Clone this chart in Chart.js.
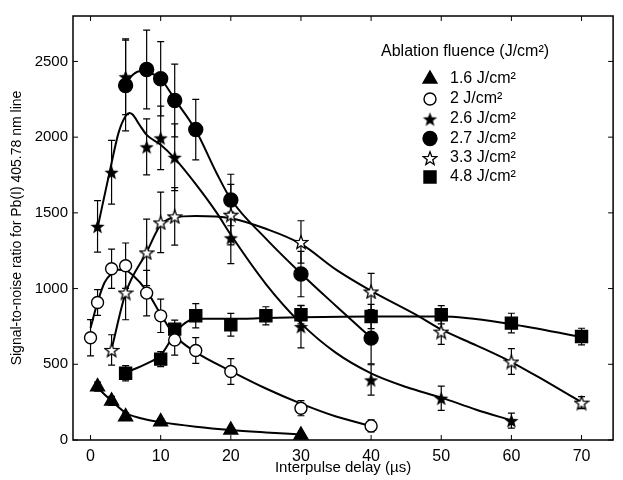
<!DOCTYPE html>
<html><head><meta charset="utf-8">
<script src="https://cdn.jsdelivr.net/npm/chart.js@4/dist/chart.umd.min.js"></script>
<style>html,body{margin:0;padding:0;background:#fff;}#wrap{width:623px;height:480px;position:relative;}</style>
</head><body><div id="wrap"><canvas id="c"></canvas></div>
<script>
// ---- data ----
const legendTitle = 'Ablation fluence (J/cm²)';
const seriesNames = ['1.6 J/cm²','2 J/cm²','2.6 J/cm²','2.7 J/cm²','3.3 J/cm²','4.8 J/cm²'];
const xTicks = [0,10,20,30,40,50,60,70];
const yTicks = [0,500,1000,1500,2000,2500];

// measured points (x = delay µs, y = S/N, e = error half-width)
const x16 = [1,3,5,10,20,30];
const y16 = [352,258,154,121,66,33];
const e16 = [30,30,25,20,15,10];

const x20 = [0,1,3,5,8,10,12,15,20,30,40];
const y20 = [675,908,1131,1151,970,820,661,591,452,210,93];
const e20 = [120,85,130,150,150,110,100,85,85,50,40];

const x26 = [1,3,5,8,10,12,20,30,40,50,60];
const y26 = [1411,1768,2399,1936,1995,1867,1335,749,397,276,128];
const e26 = [170,210,250,185,210,220,170,140,100,80,50];

const x27 = [5,8,10,12,15,20,30,40];
const y27 = [2341,2447,2386,2242,2050,1585,1096,673];
const e27 = [300,260,245,240,200,170,150,170];

const x33 = [3,5,8,10,12,20,30,40,50,60,70];
const y33 = [595,974,1239,1437,1477,1488,1308,981,716,518,247];
const e33 = [100,180,220,200,190,200,140,120,85,85,40];

const x48 = [5,10,12,15,20,25,30,40,50,60,70];
const y48 = [441,534,732,820,761,820,827,816,827,772,683];
const e48 = [50,50,60,80,75,60,60,80,60,65,55];

// fitted curves
const fx16 = [1,3,5,7,10,15,20,25,30];
const fy16 = [345,258,180,145,118,88,66,50,36];
const fx20 = [0,1,2,3,4,5,6,8,10,12,15,20,25,30,35,40];
const fy20 = [740,910,1040,1100,1125,1120,1090,985,830,690,580,455,340,240,155,93];
const fx26 = [1,3,4,5,5.5,6,7,8,10,12,15,18,20,25,30,35,40,45,50,55,60];
const fy26 = [1400,1830,2030,2140,2160,2150,2080,2015,1950,1860,1690,1500,1355,1030,770,575,440,350,280,200,130];
const fx27 = [5,6,7,8,10,12,15,18,20,25,30,35,40];
const fy27 = [2350,2410,2435,2430,2385,2250,2045,1760,1590,1330,1100,885,675];
const fx33 = [3,5,8,10,12,15,20,25,30,35,40,46.5,50,55,60,65,70];
const fy33 = [600,970,1240,1420,1470,1480,1465,1395,1295,1125,985,825,730,625,515,385,250];
const fx48 = [5,8,10,12,13,15,20,25,30,40,50,60,70];
const fy48 = [445,505,560,700,755,800,800,805,810,815,815,765,680];

// ---- helpers ----
const zip = (xs, ys) => xs.map((x, i) => ({x: x, y: ys[i]}));
function starCanvas(size, filled) {
  const c = document.createElement('canvas');
  c.width = c.height = size;
  const g = c.getContext('2d');
  const cx = size / 2, cy = size / 2 + size * 0.05, R = size / 2 - 1, r = R * 0.42;
  g.beginPath();
  for (let i = 0; i < 10; i++) {
    const a = -Math.PI / 2 + i * Math.PI / 5;
    const rad = i % 2 ? r : R;
    g.lineTo(cx + rad * Math.cos(a), cy + rad * Math.sin(a));
  }
  g.closePath();
  if (filled) { g.fillStyle = '#000'; g.fill(); }
  else { g.fillStyle = '#fff'; g.fill(); g.lineWidth = 1.3; g.strokeStyle = '#000'; g.stroke(); }
  return c;
}
const starFilled = starCanvas(17, true);
const starOpen = starCanvas(16, false);

const FONT = "'Liberation Sans', Arial, Helvetica, sans-serif";

function pointSet(name, xs, ys, es, style, radius, fill) {
  return {
    label: name, data: zip(xs, ys), errors: es, showLine: false, order: 1,
    pointStyle: style, pointRadius: radius, pointHoverRadius: radius,
    pointBackgroundColor: fill, pointBorderColor: '#000', pointBorderWidth: 1.4,
    isMarker: true
  };
}
function curveSet(xs, ys) {
  return {
    label: '', data: zip(xs, ys), showLine: true, order: 2, pointRadius: 0,
    borderColor: '#000', borderWidth: 2, cubicInterpolationMode: 'monotone', fill: false
  };
}

const datasets = [
  curveSet(fx16, fy16), curveSet(fx20, fy20), curveSet(fx26, fy26),
  curveSet(fx27, fy27), curveSet(fx33, fy33), curveSet(fx48, fy48),
  pointSet(seriesNames[0], x16, y16, e16, 'triangle', 8, '#000'),
  pointSet(seriesNames[1], x20, y20, e20, 'circle', 6, '#fff'),
  pointSet(seriesNames[2], x26, y26, e26, starFilled, 8, '#000'),
  pointSet(seriesNames[3], x27, y27, e27, 'circle', 7, '#000'),
  pointSet(seriesNames[4], x33, y33, e33, starOpen, 8, '#fff'),
  pointSet(seriesNames[5], x48, y48, e48, 'rect', 8.5, '#000')
];

// ---- plugins ----
const errorBars = {
  id: 'errorBars',
  beforeDatasetsDraw(chart) {
    const ctx = chart.ctx, xs = chart.scales.x, ys = chart.scales.y, a = chart.chartArea;
    ctx.save();
    ctx.beginPath(); ctx.rect(a.left, a.top, a.right - a.left, a.bottom - a.top); ctx.clip();
    ctx.strokeStyle = '#000'; ctx.lineWidth = 1.2;
    chart.data.datasets.forEach(ds => {
      if (!ds.errors) return;
      ds.data.forEach((p, j) => {
        const e = ds.errors[j];
        const px = xs.getPixelForValue(p.x);
        const y1 = ys.getPixelForValue(p.y + e), y2 = ys.getPixelForValue(p.y - e);
        ctx.beginPath();
        ctx.moveTo(px, y1); ctx.lineTo(px, y2);
        ctx.moveTo(px - 3.5, y1); ctx.lineTo(px + 3.5, y1);
        ctx.moveTo(px - 3.5, y2); ctx.lineTo(px + 3.5, y2);
        ctx.stroke();
      });
    });
    ctx.restore();
  }
};

const frame = {
  id: 'frame',
  afterDatasetsDraw(chart) {
    const ctx = chart.ctx, a = chart.chartArea, xs = chart.scales.x, ys = chart.scales.y;
    ctx.save();
    ctx.strokeStyle = '#000'; ctx.lineWidth = 1.5;
    ctx.strokeRect(a.left, a.top, a.right - a.left, a.bottom - a.top);
    ctx.lineWidth = 1;
    ctx.beginPath();
    xTicks.forEach(v => {
      const px = xs.getPixelForValue(v);
      ctx.moveTo(px, a.bottom); ctx.lineTo(px, a.bottom - 5);
      ctx.moveTo(px, a.top); ctx.lineTo(px, a.top + 5);
    });
    yTicks.forEach(v => {
      const py = ys.getPixelForValue(v);
      ctx.moveTo(a.left, py); ctx.lineTo(a.left + 5, py);
      ctx.moveTo(a.right, py); ctx.lineTo(a.right - 5, py);
    });
    ctx.stroke();
    ctx.restore();
  }
};

const legendBox = {
  id: 'legendBox',
  afterDraw(chart) {
    const ctx = chart.ctx;
    ctx.save();
    ctx.fillStyle = '#000';
    ctx.textBaseline = 'middle';
    ctx.textAlign = 'left';
    ctx.font = '16px ' + FONT;
    ctx.fillText(legendTitle, 381, 52);
    const rows = [79, 99, 119, 138.5, 158, 177];
    const markers = chart.data.datasets.filter(d => d.isMarker);
    ctx.font = '16px ' + FONT;
    markers.forEach((ds, i) => {
      const y = rows[i], x = 430;
      const st = ds.pointStyle;
      if (st instanceof HTMLCanvasElement) {
        ctx.drawImage(st, x - st.width / 2, y - st.height / 2);
      } else {
        ctx.fillStyle = ds.pointBackgroundColor;
        ctx.strokeStyle = '#000';
        ctx.lineWidth = ds.pointBorderWidth;
        Chart.helpers.drawPoint(ctx, {pointStyle: st, radius: ds.pointRadius, rotation: 0, borderWidth: ds.pointBorderWidth}, x, y);
      }
      ctx.fillStyle = '#000';
      ctx.fillText(ds.label, 450, y);
    });
    ctx.restore();
  }
};

new Chart(document.getElementById('c'), {
  type: 'line',
  data: {datasets: datasets},
  plugins: [errorBars, frame, legendBox],
  options: {
    responsive: true, maintainAspectRatio: false, animation: false,
    layout: {padding: {top: 16, right: 2, left: 0, bottom: 0}},
    plugins: {legend: {display: false}, tooltip: {enabled: false}},
    scales: {
      x: {
        type: 'linear', min: -2.5, max: 74.5,
        afterBuildTicks: s => { s.ticks = xTicks.map(v => ({value: v})); },
        afterFit: s => { s.height = 40; },
        grid: {display: false, drawTicks: false}, border: {display: false},
        ticks: {color: '#000', font: {family: FONT, size: 16}, padding: 7, maxRotation: 0, callback: v => String(v)},
        title: {display: true, text: 'Interpulse delay (µs)', color: '#000', font: {family: FONT, size: 15}, padding: {top: 0, bottom: 3}}
      },
      y: {
        type: 'linear', min: 0, max: 2800,
        afterBuildTicks: s => { s.ticks = yTicks.map(v => ({value: v})); },
        afterFit: s => { s.width = 73; },
        grid: {display: false, drawTicks: false}, border: {display: false},
        ticks: {color: '#000', font: {family: FONT, size: 15}, padding: 5, callback: v => String(v)},
        title: {display: true, text: 'Signal-to-noise ratio for Pb(I) 405.78 nm line', color: '#000', font: {family: FONT, size: 14}, padding: {top: 9, bottom: 0}}
      }
    }
  }
});
</script></body></html>
